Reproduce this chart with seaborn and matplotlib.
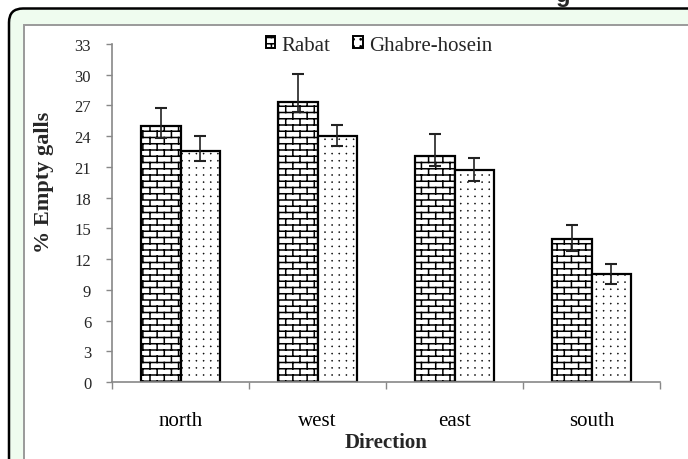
import warnings
warnings.filterwarnings("ignore")
import numpy as np
import pandas as pd
import matplotlib
matplotlib.use("Agg")
import matplotlib.pyplot as plt
from matplotlib import hatch as mhatch
from matplotlib.path import Path
from matplotlib.patches import Patch, FancyBboxPatch
import seaborn as sns

# ---------------- data ----------------
directions = ["north", "west", "east", "south"]
sites = ["Rabat", "Ghabre-hosein"]
rabat = [25.0, 27.3, 22.1, 14.0]
ghabre = [22.6, 24.0, 20.7, 10.5]
rabat_err_hi = [1.8, 2.8, 2.1, 1.3]
rabat_err_lo = [1.2, 0.9, 1.0, 1.2]
ghabre_err_hi = [1.4, 1.1, 1.2, 1.0]
ghabre_err_lo = [1.0, 1.0, 1.1, 0.9]
yticks = list(range(0, 34, 3))


# ---------------- custom hatches ----------------
class BrickHatch(mhatch.HatchPatternBase):
    def __init__(self, hatch, density):
        n = hatch.count('b')
        self.rows = 16
        self.cols = 7
        if n:
            self.num_vertices = (self.rows + 1) * 2 + self.rows * (self.cols + 1) * 2
        else:
            self.num_vertices = 0

    def set_vertices_and_codes(self, vertices, codes):
        r, c = self.rows, self.cols
        k = 0
        for i in range(r + 1):
            y = i / r
            vertices[k] = (0, y)
            vertices[k + 1] = (1, y)
            codes[k] = Path.MOVETO
            codes[k + 1] = Path.LINETO
            k += 2
        for i in range(r):
            off = 0.5 / c if i % 2 else 0.0
            y0, y1 = i / r, (i + 1) / r
            for j in range(c + 1):
                x = j / c + off
                vertices[k] = (x, y0)
                vertices[k + 1] = (x, y1)
                codes[k] = Path.MOVETO
                codes[k + 1] = Path.LINETO
                k += 2


class DotHatch(mhatch.HatchPatternBase):
    def __init__(self, hatch, density):
        self.n = 14 if 'd' in hatch else 0
        circ = Path.unit_circle()
        self.cv = circ.vertices
        self.cc = circ.codes
        self.num_vertices = self.n * self.n * len(self.cv)

    def set_vertices_and_codes(self, vertices, codes):
        n = self.n
        r = 0.006
        m = len(self.cv)
        k = 0
        for i in range(n):
            for j in range(n):
                cx = (j + 0.5) / n
                cy = (i + 0.5) / n
                vertices[k:k + m] = self.cv * r + (cx, cy)
                codes[k:k + m] = self.cc
                k += m


mhatch._hatch_types.append(BrickHatch)
mhatch._hatch_types.append(DotHatch)

# ---------------- figure ----------------
sns.set_theme(style="white")
plt.rcParams['font.family'] = ['Liberation Serif', 'DejaVu Serif']
plt.rcParams['hatch.linewidth'] = 1.1

fig = plt.figure(figsize=(6.88, 4.6), dpi=100)

# frame decoration
outer = FancyBboxPatch((0.09, -0.5), 8.0, 4.6 - 0.095 + 0.5,
                       boxstyle="round,pad=0,rounding_size=0.14",
                       transform=fig.dpi_scale_trans, facecolor="#effcef",
                       edgecolor="black", linewidth=1.8, zorder=-3)
inner = FancyBboxPatch((0.235, -0.5), 8.0, 4.6 - 0.262 + 0.5,
                       boxstyle="square,pad=0",
                       transform=fig.dpi_scale_trans, facecolor="white",
                       edgecolor="#9a9a9a", linewidth=1.4, zorder=-2)
fig.patches.extend([outer, inner])
fig.text(556 / 688, 1 - 2 / 460, "g", va="baseline", ha="left",
         fontsize=17, fontweight="bold", family="Liberation Sans")

ax = fig.add_axes([112 / 688, 77 / 460, 548 / 688, 338 / 460], zorder=1)
ax.set_facecolor("none")

df = pd.DataFrame({
    "Direction": directions * 2,
    "Site": [sites[0]] * 4 + [sites[1]] * 4,
    "Value": rabat + ghabre,
})

sns.barplot(data=df, x="Direction", y="Value", hue="Site", order=directions,
            hue_order=sites, palette=["white", "white"], width=0.58, gap=0,
            edgecolor="black", linewidth=1.6, legend=False, ax=ax, zorder=2)

hatches = ["b", "d"]
errs = [(rabat, rabat_err_lo, rabat_err_hi), (ghabre, ghabre_err_lo, ghabre_err_hi)]
for cont, h, (vals, lo, hi) in zip(ax.containers, hatches, errs):
    xs = []
    for bar in cont:
        bar.set_hatch(h)
        if h == "d":
            bar.set_hatch_linewidth(0.3)
        xs.append(bar.get_x() + bar.get_width() / 2)
    ax.errorbar(xs, vals, yerr=[lo, hi], fmt="none", ecolor="#222222",
                elinewidth=1.2, capsize=4.4, capthick=1.5, zorder=3)

ax.set_ylim(0, 33)
ax.set_xlim(-0.5, 3.5)
ax.set_yticks(yticks)
ax.set_yticklabels([str(v) for v in yticks], fontsize=12)
ax.set_xticks(range(len(directions)))
ax.set_xticklabels(directions, fontsize=15)
ax.set_xticks(np.arange(-0.5, 4.0, 1.0), minor=True)
ax.tick_params(axis="x", which="major", length=0, pad=21, colors="black")
ax.tick_params(axis="x", which="minor", length=5, width=1.0, color="#888888",
               direction="out", bottom=True)
ax.tick_params(axis="y", which="major", length=4, width=1.0, color="#888888",
               direction="out", left=True, pad=11)

for s in ["top", "right"]:
    ax.spines[s].set_visible(False)
for s in ["left", "bottom"]:
    ax.spines[s].set_color("#888888")
    ax.spines[s].set_linewidth(1.2)

ax.set_xlabel("Direction", fontsize=15, fontweight="bold")
ax.xaxis.set_label_coords(0.5, -0.148)
ax.set_ylabel("% Empty galls", fontsize=16, fontweight="bold")
ax.yaxis.set_label_coords(-0.106, 0.595)

handles = [Patch(facecolor="white", edgecolor="black", hatch="b", linewidth=1.4),
           Patch(facecolor="white", edgecolor="black", hatch="d", linewidth=1.4)]
ax.legend(handles, sites, loc="center", bbox_to_anchor=(0.487, 0.997), ncol=2,
          frameon=False, fontsize=15, handlelength=0.45, handleheight=0.45,
          handletextpad=0.3, columnspacing=1.1)

fig.savefig("out.png", dpi=100)
